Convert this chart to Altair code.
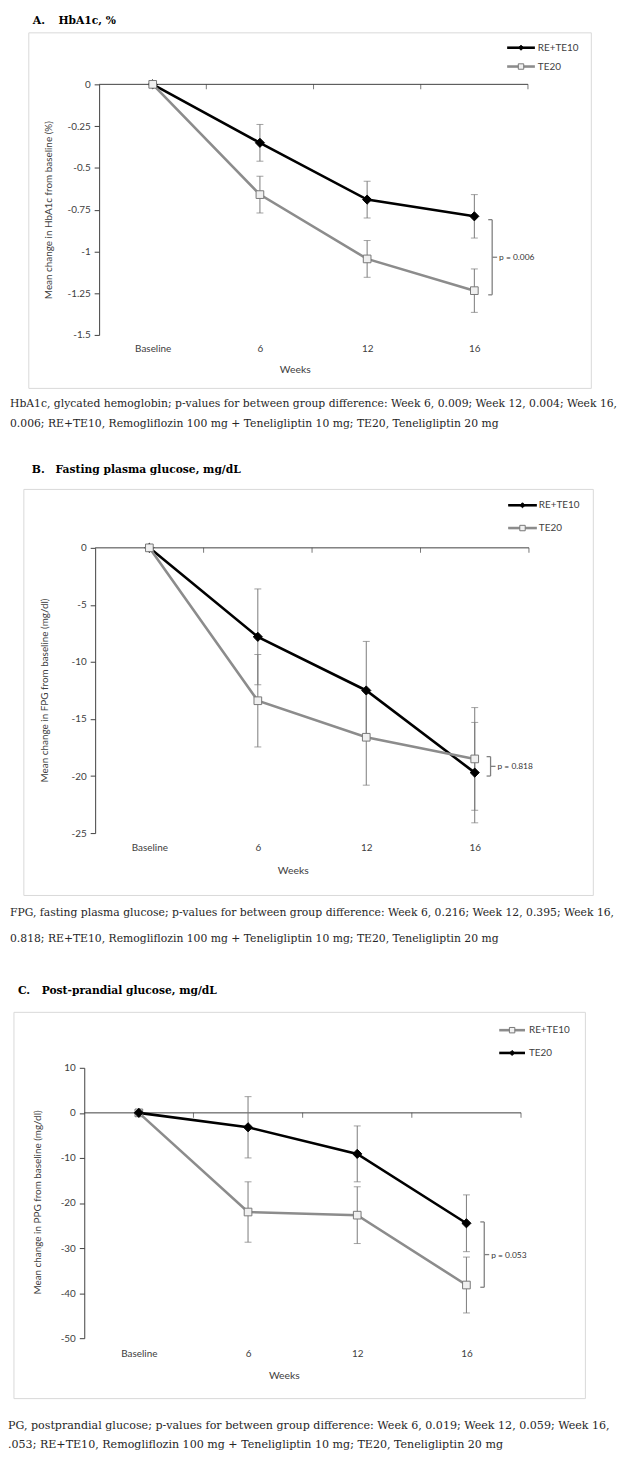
import altair as alt
import pandas as pd

# ---------------- data ----------------
weeks = ["Baseline", "6", "12", "16"]

# A. HbA1c, %
a_re_mean = [0, -0.35, -0.69, -0.79]
a_re_err = [0, 0.11, 0.11, 0.13]
a_te_mean = [0, -0.66, -1.045, -1.235]
a_te_err = [0, 0.11, 0.11, 0.13]
a_ticks = [0, -0.25, -0.5, -0.75, -1, -1.25, -1.5]
a_bracket = [-0.81, -1.26]
a_p = "p = 0.006"

# B. Fasting plasma glucose, mg/dL
b_re_mean = [0, -7.8, -12.5, -19.7]
b_re_err = [0, 4.2, 4.3, 4.4]
b_te_mean = [0, -13.4, -16.6, -18.5]
b_te_err = [0, 4.05, 4.2, 4.5]
b_ticks = [0, -5, -10, -15, -20, -25]
b_bracket = [-18.3, -20.0]
b_p = "p = 0.818"

# C. Post-prandial glucose, mg/dL (legend as printed: grey squares = RE+TE10, black diamonds = TE20)
c_grey_mean = [0, -22.0, -22.7, -38.2]
c_grey_err = [0, 6.7, 6.3, 6.2]
c_black_mean = [0, -3.2, -9.1, -24.5]
c_black_err = [0, 6.8, 6.2, 6.3]
c_ticks = [10, 0, -10, -20, -30, -40, -50]
c_bracket = [-24.2, -38.7]
c_p = "p = 0.053"

titles = [("A.", "HbA1c, %"), ("B.", "Fasting plasma glucose, mg/dL"), ("C.", "Post-prandial glucose, mg/dL")]
ytitles = ["Mean change in HbA1c from baseline (%)",
           "Mean change in FPG from baseline (mg/dl)",
           "Mean change in PPG from baseline (mg/dl)"]
captions = [
    ["HbA1c, glycated hemoglobin; p-values for between group difference: Week 6, 0.009; Week 12, 0.004; Week 16,",
     "0.006; RE+TE10, Remogliflozin 100 mg + Teneligliptin 10 mg; TE20, Teneligliptin 20 mg"],
    ["FPG, fasting plasma glucose; p-values for between group difference: Week 6, 0.216; Week 12, 0.395; Week 16,",
     "0.818; RE+TE10, Remogliflozin 100 mg + Teneligliptin 10 mg; TE20, Teneligliptin 20 mg"],
    ["PG, postprandial glucose; p-values for between group difference: Week 6, 0.019; Week 12, 0.059; Week 16,",
     ".053; RE+TE10, Remogliflozin 100 mg + Teneligliptin 10 mg; TE20, Teneligliptin 20 mg"],
]

# ---------------- styles / layout ----------------
SANS = "Lato"
SERIF = "DejaVu Serif"
AXC = "#404040"
BLACK = "#000000"
GREY = "#8c8c8c"
ERR = "#7a7a7a"
SQFILL = "#f0f0f0"
OFF = 8
W, H = 624, 1462


def P(v):
    return v - OFF


BLACK_STYLE = dict(color=BLACK, shape="diamond", fill=BLACK, stroke=BLACK, size=85, lsize=26)
GREY_STYLE = dict(color=GREY, shape="square", fill=SQFILL, stroke="#777777", size=60, lsize=30)

geoms = [
    dict(x0=100, x1=533, ytop=78, ybot=331, lpad=14, box=(29, 26, 597, 385), ty=14, tx=(33, 59),
         leg=(512, 540, 543), legy=(41, 60), yt=(49, 205), wk=(298, 366), capy=(401, 421), capx=10, bx=18, capfs=10.9),
    dict(x0=96, x1=534, ytop=546, ybot=834, lpad=15, box=(24, 487, 599, 897), ty=467, tx=(32, 56),
         leg=(513, 542, 544), legy=(503, 526), yt=(45, 690), wk=(296, 872), capy=(915, 941), capx=10, bx=16, capfs=10.9),
    dict(x0=85, x1=526, ytop=1071, ybot=1344, lpad=16, box=(14, 1015, 591, 1405), ty=993, tx=(18, 42),
         leg=(504, 530, 534), legy=(1033, 1056), yt=(38, 1207), wk=(287, 1382), capy=(1433, 1452), capx=8, bx=18, capfs=11.2),
]


def txt(s, x, y, size=10, font=SANS, color=AXC, weight="normal", align="left", angle=0):
    return alt.Chart(pd.DataFrame({"t": [s]})).mark_text(
        align=align, baseline="middle", font=font, fontSize=size, color=color,
        fontWeight=weight, angle=angle
    ).encode(x=alt.value(P(x)), y=alt.value(P(y)), text="t:N")


def panel(g, series, ticks, bracket, ptext, title, ytitle, caption):
    n = len(weeks)
    xs = alt.Scale(domain=[-0.5, n - 0.5], range=[P(g["x0"]), P(g["x1"])], nice=False, zero=False)
    ys = alt.Scale(domain=[min(ticks), max(ticks)], range=[P(g["ybot"]), P(g["ytop"])], nice=False, zero=False)
    label_expr = "[" + ",".join("'%s'" % w for w in weeks) + "][datum.value]"
    xa = alt.Axis(orient="bottom", offset=P(g["ybot"]) - H, values=list(range(n)), labelExpr=label_expr,
                  domain=False, ticks=False, tickSize=0, grid=False, labelPadding=g["lpad"],
                  labelBaseline="middle", labelFont=SANS, labelFontSize=10, labelColor=AXC,
                  title=None, labelFlush=False, labelOverlap=False)
    ya = alt.Axis(orient="left", offset=-P(g["x0"]), values=ticks, labelExpr="datum.value + ''",
                  grid=False, domainColor=AXC, tickColor=AXC, tickSize=5, labelPadding=4,
                  labelFont=SANS, labelFontSize=10, labelColor=AXC, title=None,
                  labelFlush=False, labelOverlap=False)
    X = alt.X("idx:Q", scale=xs, axis=xa)

    layers = []
    # zero line with category-boundary ticks
    bounds = pd.DataFrame({"b": [i + 0.5 for i in range(n)]})
    layers.append(alt.Chart(pd.DataFrame({"k": [-0.5]})).mark_rule(color=AXC, strokeWidth=1).encode(
        x=alt.X("k:Q", scale=xs, axis=xa), x2=alt.datum(n - 0.5), y=alt.datum(0, scale=ys, axis=ya)))
    layers.append(alt.Chart(bounds).mark_tick(orient="vertical", size=5, thickness=1, color=AXC, yOffset=2.5).encode(
        x=alt.X("b:Q", scale=xs, axis=xa), y=alt.datum(0, scale=ys, axis=ya)))

    for s in series:
        df = pd.DataFrame({"idx": list(range(n)), "mean": s["mean"],
                           "lo": [m - e for m, e in zip(s["mean"], s["err"])],
                           "hi": [m + e for m, e in zip(s["mean"], s["err"])],
                           "err": s["err"]})
        e = df[df["err"] > 0]
        layers.append(alt.Chart(e).mark_rule(color=ERR, strokeWidth=1).encode(
            x=X, y=alt.Y("lo:Q", scale=ys, axis=ya), y2="hi:Q"))
        layers.append(alt.Chart(e).transform_fold(["lo", "hi"]).mark_tick(
            orient="horizontal", size=7, thickness=1, color=ERR).encode(
            x=X, y=alt.Y("value:Q", scale=ys, axis=ya)))
        s["df"] = df
    for s in series:
        st = s["style"]
        layers.append(alt.Chart(s["df"]).mark_line(color=st["color"], strokeWidth=2.6).encode(
            x=X, y=alt.Y("mean:Q", scale=ys, axis=ya)))
    for s in series:
        st = s["style"]
        layers.append(alt.Chart(s["df"]).mark_point(shape=st["shape"], filled=True, fill=st["fill"],
                                                    stroke=st["stroke"], strokeWidth=1, size=st["size"],
                                                    opacity=1).encode(
            x=X, y=alt.Y("mean:Q", scale=ys, axis=ya)))

    # p-value bracket next to week 16
    br = pd.DataFrame({"top": [bracket[0]], "bot": [bracket[1]], "mid": [(bracket[0] + bracket[1]) / 2],
                       "p": [ptext]})
    bx = g["bx"]
    last = alt.datum(n - 1, scale=xs, axis=xa)
    BC = "#808080"
    layers.append(alt.Chart(br).mark_rule(color=BC, strokeWidth=1.3, xOffset=bx).encode(
        x=last, y=alt.Y("top:Q", scale=ys, axis=ya), y2="bot:Q"))
    for fld in ["top", "bot"]:
        layers.append(alt.Chart(br).mark_rule(color=BC, strokeWidth=1.3, xOffset=bx - 4, x2Offset=bx).encode(
            x=last, x2=alt.datum(n - 1), y=alt.Y(fld + ":Q", scale=ys, axis=ya)))
    layers.append(alt.Chart(br).mark_rule(color=BC, strokeWidth=1.3, xOffset=bx, x2Offset=bx + 5).encode(
        x=last, x2=alt.datum(n - 1), y=alt.Y("mid:Q", scale=ys, axis=ya)))
    layers.append(alt.Chart(br).mark_text(align="left", baseline="middle", dx=bx + 7, font=SANS,
                                          fontSize=8.5, color="#333333").encode(
        x=last, y=alt.Y("mid:Q", scale=ys, axis=ya), text="p:N"))

    data_layer = alt.layer(*layers)

    ann = []
    bx0, by0, bx1, by1 = g["box"]
    ann.append(alt.Chart(pd.DataFrame({"k": [0]})).mark_rect(fillOpacity=0, stroke="#d9d9d9", strokeWidth=1).encode(
        x=alt.value(P(bx0)), x2=alt.value(P(bx1)), y=alt.value(P(by0)), y2=alt.value(P(by1))))
    ann.append(txt(title[0], g["tx"][0], g["ty"], size=11, font=SERIF, color=BLACK, weight="bold"))
    ann.append(txt(title[1], g["tx"][1], g["ty"], size=10.8, font=SERIF, color=BLACK, weight="bold"))
    ann.append(txt(ytitle, g["yt"][0], g["yt"][1], size=10, align="center", angle=270))
    ann.append(txt("Weeks", g["wk"][0], g["wk"][1], size=10.5, align="center"))
    for line, cy in zip(caption, g["capy"]):
        ann.append(txt(line, g["capx"], cy, size=g["capfs"], font=SERIF, color="#262626"))
    lx0, lx1, ltx = g["leg"]
    for s, ly in zip(series, g["legy"]):
        st = s["style"]
        ann.append(alt.Chart(pd.DataFrame({"k": [0]})).mark_rule(color=st["color"], strokeWidth=2.6).encode(
            x=alt.value(P(lx0)), x2=alt.value(P(lx1)), y=alt.value(P(ly))))
        ann.append(alt.Chart(pd.DataFrame({"k": [0]})).mark_point(
            shape=st["shape"], filled=True, fill=st["fill"], stroke=st["stroke"], strokeWidth=1,
            size=st["lsize"], opacity=1).encode(x=alt.value(P((lx0 + lx1) / 2)), y=alt.value(P(ly))))
        ann.append(txt(s["name"], ltx, ly, size=10))
    return data_layer, ann


pA, annA = panel(geoms[0],
                 [dict(name="RE+TE10", mean=a_re_mean, err=a_re_err, style=BLACK_STYLE),
                  dict(name="TE20", mean=a_te_mean, err=a_te_err, style=GREY_STYLE)],
                 a_ticks, a_bracket, a_p, titles[0], ytitles[0], captions[0])
pB, annB = panel(geoms[1],
                 [dict(name="RE+TE10", mean=b_re_mean, err=b_re_err, style=BLACK_STYLE),
                  dict(name="TE20", mean=b_te_mean, err=b_te_err, style=GREY_STYLE)],
                 b_ticks, b_bracket, b_p, titles[1], ytitles[1], captions[1])
pC, annC = panel(geoms[2],
                 [dict(name="RE+TE10", mean=c_grey_mean, err=c_grey_err, style=GREY_STYLE),
                  dict(name="TE20", mean=c_black_mean, err=c_black_err, style=BLACK_STYLE)],
                 c_ticks, c_bracket, c_p, titles[2], ytitles[2], captions[2])

chart = alt.layer(
    *annA, *annB, *annC, pA, pB, pC
).resolve_scale(x="independent", y="independent").resolve_axis(
    x="independent", y="independent"
).properties(
    width=W, height=H, padding=0, background="white",
    autosize=alt.AutoSizeParams(type="none")
).configure_view(stroke=None)

chart.save("out.html", embed_options={"renderer": "svg", "actions": False})
